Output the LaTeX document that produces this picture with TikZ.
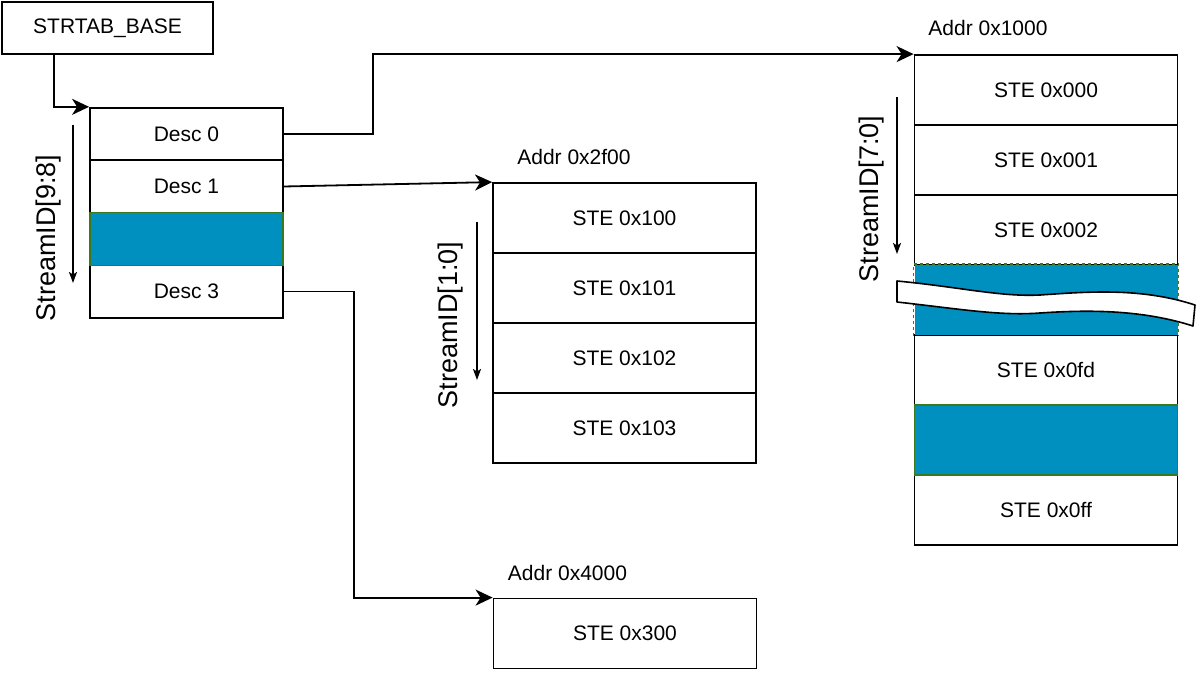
\documentclass[tikz,border=0pt]{standalone}
\usepackage{fontspec}
\setmainfont{Liberation Sans}
\usetikzlibrary{arrows.meta}
\definecolor{cellblue}{RGB}{0,144,192}
\definecolor{cellgreen}{RGB}{60,120,30}
\tikzset{
  cell/.style={draw=black, line width=1.8pt, fill=white, inner sep=0pt, font=\fontsize{21}{25}\selectfont},
  desccell/.style={cell, minimum width=193pt, minimum height=52.5pt},
  stecell/.style={cell, minimum width=263pt, minimum height=70pt},
  bluecell/.style={fill=cellblue, draw=cellgreen, line width=1.3pt},
  lbl/.style={inner sep=0pt, font=\fontsize{21}{25}\selectfont},
  sidlbl/.style={inner sep=0pt, rotate=90, font=\fontsize{27}{30}\selectfont},
  arr/.style={draw=black, line width=1.8pt, -{Stealth[length=17pt,width=16pt,inset=5pt]}},
  sarr/.style={draw=black, line width=1.6pt, -{Stealth[length=11pt,width=8pt,inset=2.5pt]}},
}
\begin{document}
\begin{tikzpicture}[x=1pt,y=-1pt]
\useasboundingbox (0,0) rectangle (1200,676);
% base
\node[cell, minimum width=211pt, minimum height=52pt] (base) at (107.5,28) {STRTAB\_BASE};
% descriptor table
\node[desccell] (d0) at (186.5,134) {Desc 0};
\node[desccell] (d1) at (186.5,186.5) {Desc 1};
\node[desccell] (d3) at (186.5,291.5) {Desc 3};
\node[desccell, bluecell] (d2) at (186.5,239) {};
% middle table
\node[stecell] (m0) at (624.5,218) {STE 0x100};
\node[stecell] (m1) at (624.5,288) {STE 0x101};
\node[stecell] (m2) at (624.5,358) {STE 0x102};
\node[stecell] (m3) at (624.5,428) {STE 0x103};
% bottom table
\node[stecell] (s0) at (625,633.5) {STE 0x300};
% right table
\node[stecell] (r0) at (1046,90) {STE 0x000};
\node[stecell] (r1) at (1046,160) {STE 0x001};
\node[stecell] (r2) at (1046,230) {STE 0x002};
\node[stecell] (r4) at (1046,370) {STE 0x0fd};
\node[stecell] (r6) at (1046,510) {STE 0x0ff};
\node[stecell, bluecell] (r5) at (1046,440) {};
\node[stecell, fill=cellblue, draw=none] (r3) at (1046,300) {};
\draw[cellgreen, line width=1.3pt, dashed] (r3.south west) -- (r3.north west) -- (r3.north east) -- (r3.south east);
% break symbol
\draw[black, line width=1.6pt, fill=white, line join=round]
  (897,281) .. controls (960,287) and (1000,297) .. (1040,295)
  .. controls (1085,292) and (1140,287) .. (1195,305)
  -- (1193,326)
  .. controls (1140,309) and (1085,310) .. (1040,313)
  .. controls (1000,316) and (960,309) .. (897,302)
  -- cycle;
% address labels
\node[lbl] (a1) at (988,28) {Addr 0x1000};
\node[lbl] (a2) at (574,157) {Addr 0x2f00};
\node[lbl] (a3) at (567.5,573) {Addr 0x4000};
% StreamID labels
\node[sidlbl] (sid1) at (48.5,238) {StreamID[9:8]};
\node[sidlbl] (sid2) at (451,325) {StreamID[1:0]};
\node[sidlbl] (sid3) at (871.5,199) {StreamID[7:0]};
\coordinate (s1a) at (73,125); \coordinate (s1b) at (73,283);
\coordinate (s2a) at (477,222); \coordinate (s2b) at (477,380);
\coordinate (s3a) at (897,97); \coordinate (s3b) at (897,254);
\draw[sarr] (s1a) -- (s1b);
\draw[sarr] (s2a) -- (s2b);
\draw[sarr] (s3a) -- (s3b);
% connectors
\draw[arr] ([xshift=53pt]base.south west) |- (d0.north west);
\draw[arr] (d0.east) -- ++(89,0) |- (r0.north west);
\draw[arr] (d1.east) -- (m0.north west);
\draw[arr] (d3.east) -- ++(70,0) |- (s0.north west);
\end{tikzpicture}
\end{document}
